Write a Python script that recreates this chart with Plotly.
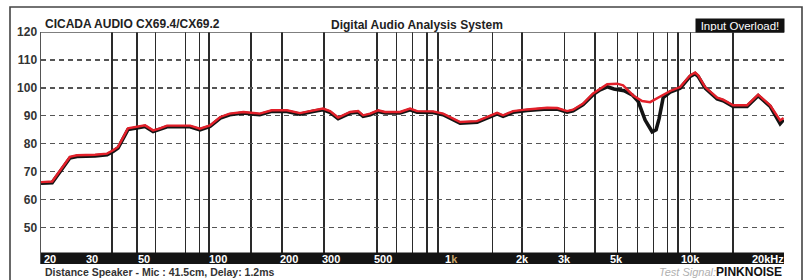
import math
import plotly.graph_objects as go

# ---------------- data ----------------
red_freq = [20, 22.3, 26.5, 28.4, 33.9, 38.1, 40.4, 42.4, 46.7, 51, 55.2, 59.7, 63.9, 68.4, 85.6, 94.3,
            104, 115, 126, 144, 169, 190, 220, 250, 284, 313, 335, 363, 408, 441, 463, 496, 536, 574,
            664, 732, 784, 916, 1010, 1193, 1408, 1552, 1711, 1814, 2000, 2293, 2788, 3074, 3388, 3592,
            3960, 4366, 4674, 5006, 5518, 5850, 6450, 7042, 7612, 8392, 9256, 10202, 11246, 11808, 12160,
            13024, 14638, 15518, 17108, 19612, 21840, 24547, 27060, 28000]
red_db = [66.3, 66.5, 75.3, 75.9, 76.1, 76.5, 77.7, 78.9, 85.5, 86.2, 86.6, 84.8, 85.5, 86.5, 86.5, 85.4,
          86.6, 89.6, 90.8, 91.4, 90.8, 92.0, 92.0, 91.0, 92.0, 92.6, 91.7, 89.4, 91.4, 91.7, 90.2, 90.8, 92.0, 91.4,
          91.4, 92.6, 91.7, 91.6, 90.8, 87.8, 88.1, 89.6, 91.1, 90.2, 91.7, 92.3, 92.9, 92.8, 91.7, 92.2,
          94.4, 98.0, 99.7, 101.3, 101.5, 100.9, 97.3, 95.3, 94.9, 97.0, 98.9, 100.3, 104.5, 105.5, 104.5,
          100.3, 96.5, 95.8, 93.8, 93.8, 97.6, 93.8, 88.4, 89.2]

black_freq = [20, 22.3, 26.5, 28.4, 33.9, 38.1, 40.4, 42.4, 46.7, 51, 55.2, 59.7, 63.9, 68.4, 85.6, 94.3,
              104, 115, 126, 144, 169, 190, 220, 250, 284, 313, 335, 363, 408, 441, 463, 496, 536, 574,
              664, 732, 784, 916, 1010, 1193, 1408, 1552, 1711, 1814, 2000, 2293, 2788, 3074, 3388, 3592,
              3960, 4366, 4674, 5006, 5350, 5906, 6388, 6772, 7250, 7765, 8071, 8310, 8644, 9256, 10202,
              11246, 11808, 12160, 13024, 14638, 15518, 17108, 19612, 21840, 24547, 27060, 28000]
black_db = [65.9, 66.1, 74.9, 75.5, 75.7, 76.1, 77.3, 78.5, 85.1, 85.8, 86.2, 84.4, 85.1, 86.1, 86.1, 85.0,
            86.2, 89.2, 90.4, 91.0, 90.4, 91.6, 91.6, 90.6, 91.6, 92.2, 91.3, 89.0, 91.0, 91.3, 89.8, 90.4, 91.6, 91.0,
            91.0, 92.2, 91.3, 91.2, 90.4, 87.4, 87.7, 89.2, 90.7, 89.8, 91.3, 91.9, 92.5, 92.4, 91.3, 91.8,
            94.0, 97.6, 99.3, 100.4, 99.6, 99.0, 97.5, 95.2, 88.5, 84.3, 85.0, 89.0, 96.5, 98.5, 99.9,
            104.1, 105.1, 104.1, 99.9, 96.1, 95.4, 93.4, 93.4, 97.2, 93.4, 87.2, 88.6]

grid_freqs = [40, 51, 61, 82, 94, 103, 155, 210, 316, 530, 640, 747, 864, 962, 1630, 2180,
              3290, 4450, 5520, 6710, 7840, 8990, 10000, 11250, 17100]
label_freqs = [20, 30, 50, 100, 200, 300, 500, 1000, 2000, 3000, 5000, 10000, 20000]
label_texts = ["20", "30", "50", "100", "200", "300", "500",
               "1<span style='color:#c9a36a'>k</span>", "2k", "3k", "5k", "10k", "20kHz"]
y_ticks = [50, 60, 70, 80, 90, 100, 110, 120]

# ---------------- layout helpers (pixel -> paper) ----------------
L, R, T, B = 41, 784, 32, 264
W, H = 808, 280
def px(x):
    return (x - L) / (R - L)
def py(y):
    return (B - y) / (B - T)

FONT = "Arial, 'Liberation Sans', sans-serif"

fig = go.Figure()
fig.add_trace(go.Scatter(x=black_freq, y=black_db, mode="lines",
                         line=dict(color="#141414", width=3.6), hoverinfo="skip", showlegend=False))
fig.add_trace(go.Scatter(x=red_freq, y=red_db, mode="lines",
                         line=dict(color="#e3202a", width=2.4), hoverinfo="skip", showlegend=False))

fig.update_layout(
    width=W, height=H,
    margin=dict(l=L, r=W - R, t=T, b=H - B),
    paper_bgcolor="white", plot_bgcolor="white",
    font=dict(family=FONT),
    xaxis=dict(type="log", range=[math.log10(20), math.log10(28100)],
               tickvals=grid_freqs, showticklabels=False, ticks="",
               showgrid=True, gridcolor="#2a2a2a", gridwidth=1.2,
               zeroline=False, showline=False, fixedrange=True),
    yaxis=dict(range=[37, 120], tickvals=y_ticks, ticktext=[str(v) for v in y_ticks],
               tickfont=dict(size=12, color="#333", family=FONT, weight="bold"),
               ticks="", ticklabelstandoff=0,
               showgrid=True, gridcolor="#555", gridwidth=1.2, griddash="5px,4px",
               zeroline=False, showline=True, linecolor="#555", linewidth=1.5, fixedrange=True),
)

shapes = [
    # top solid line at 120
    dict(type="line", xref="paper", yref="y", x0=0, x1=1, y0=120, y1=120,
         line=dict(color="#555", width=1.5), layer="above"),
    # black band with frequency labels
    dict(type="rect", xref="paper", yref="y", x0=0, x1=1, y0=37, y1=41.1,
         fillcolor="#141414", line=dict(width=0), layer="above"),
    # outer frame
    dict(type="rect", xref="paper", yref="paper", x0=px(10), x1=px(802), y0=py(290), y1=py(7),
         line=dict(color="#444", width=1.6), fillcolor="rgba(0,0,0,0)", layer="above"),
]
fig.update_layout(shapes=shapes)

ann = []
for f, t in zip(label_freqs, label_texts):
    ann.append(dict(x=math.log10(f), xref="x", y=py(258.5), yref="paper", text="<b>" + t + "</b>",
                    showarrow=False, xanchor="left", yanchor="middle", xshift=1,
                    font=dict(size=11, color="white", family=FONT)))
ann += [
    dict(x=px(43), y=py(23.5), xref="paper", yref="paper", text="<b>CICADA AUDIO CX69.4/CX69.2</b>",
         showarrow=False, xanchor="left", yanchor="middle", font=dict(size=12, color="#222", family=FONT)),
    dict(x=px(417), y=py(25), xref="paper", yref="paper", text="<b>Digital Audio Analysis System</b>",
         showarrow=False, xanchor="center", yanchor="middle", font=dict(size=12, color="#222", family=FONT)),
    dict(x=px(740), y=py(25.3), xref="paper", yref="paper", text="Input Overload!",
         showarrow=False, xanchor="center", yanchor="middle", bgcolor="#111", borderpad=1,
         width=86, height=11, font=dict(size=11.5, color="white", family=FONT)),
    dict(x=px(43), y=py(272), xref="paper", yref="paper",
         text="<b>Distance Speaker - Mic : 41.5cm, Delay: 1.2ms</b>",
         showarrow=False, xanchor="left", yanchor="middle", font=dict(size=10.5, color="#333", family=FONT)),
    dict(x=px(784), y=py(272), xref="paper", yref="paper",
         text="<span style='color:#b0b0b0;font-size:11px'><i>Test Signal:</i></span><b>PINKNOISE</b>",
         showarrow=False, xanchor="right", yanchor="middle", font=dict(size=12, color="#111", family=FONT)),
]
fig.update_layout(annotations=ann)

fig.write_html("out.html", config={"displayModeBar": False, "staticPlot": True},
               post_script="document.body.style.margin='0px';document.body.style.overflow='hidden';")
